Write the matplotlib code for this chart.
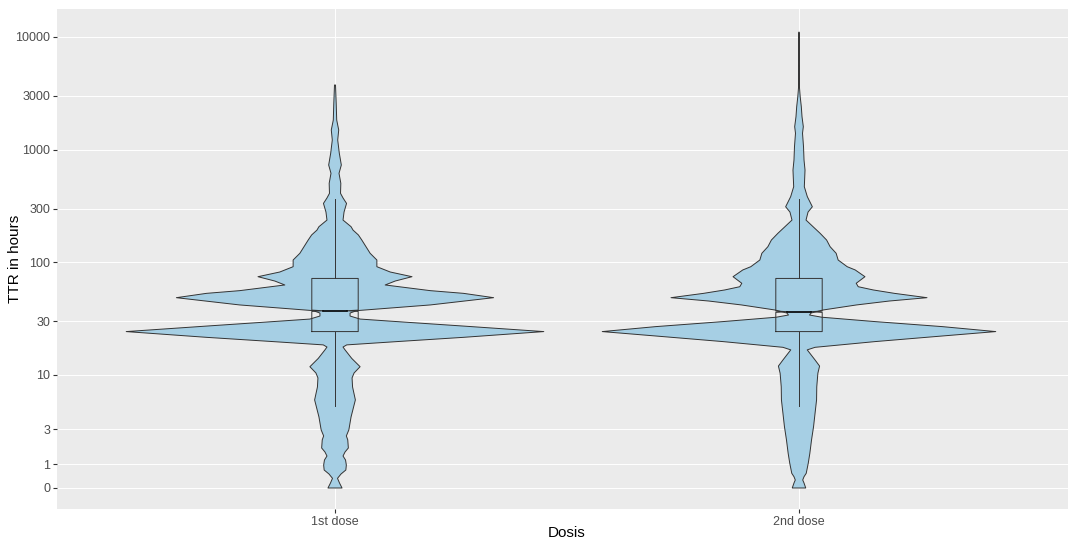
import numpy as np
import matplotlib
matplotlib.use("Agg")
import matplotlib.pyplot as plt

plt.rcParams['font.family'] = ['Liberation Sans', 'DejaVu Sans']

# ---------------- data ----------------
categories = ["1st dose", "2nd dose"]

# violin profile of "1st dose": TTR level (hours) and relative density (half-width)
dose1_levels = [0, 0.204, 0.397, 0.579, 0.751, 0.973, 1.206, 1.40, 1.605, 1.82,
                2.30, 2.547, 2.97, 4.03, 5.87, 7.73, 9.35, 10.36, 11.8, 14.0,
                16.7, 17.7, 18.5, 19.8, 21.6, 24.3, 27.2, 29.8, 31.4, 33.4,
                35.5, 37.3, 41.9, 48.6, 53.1, 56.1, 63.0, 68.3, 74.6, 82.1,
                91.5, 104.9, 120.3, 157.7, 174.8, 193, 207, 237, 279, 333,
                372, 409, 502, 615, 729, 926, 1214, 1490, 1826, 2568, 3730]
dose1_density = [7, 4.5, 2.5, 6, 10.8, 11.3, 10.5, 8, 10, 13.3,
                 12.7, 11.3, 13.8, 16, 20.3, 17.5, 17, 19, 25, 16.7,
                 10, 8, 11.7, 62, 128, 208, 128, 62, 25, 15,
                 15, 21.7, 95, 158, 128, 95, 50, 60, 76.7, 55,
                 41.7, 41.7, 35, 26.7, 23.3, 18, 16, 8, 9, 11.5,
                 8, 5.5, 5.8, 4, 6.3, 4.3, 2.7, 3.7, 1.7, 1.2, 0.5]

# violin profile of "2nd dose"
dose2_levels = [0, 0.204, 0.328, 0.465, 0.609, 1.051, 1.537, 2.30, 3.21, 4.38,
                5.87, 7.77, 10.3, 11.96, 13.56, 16.7, 17.6, 19.8, 22.2, 24.3,
                26.9, 29.8, 32.6, 34.1, 35.5, 37.8, 41.9, 45.4, 48.6, 53.1,
                56.9, 60.8, 65.2, 74.6, 85.6, 91.5, 104.9, 120.3, 137.6, 157.7,
                181, 207, 237, 279, 311, 382, 468, 658, 807, 1059,
                1394, 1593, 1954, 2398, 2940, 3606, 6202, 11000]
dose2_density = [6.7, 5, 3.7, 5, 7.2, 9.2, 10.8, 12.5, 14.5, 16,
                 17.5, 17.7, 18.8, 20.5, 16, 8.2, 16, 76, 142.7, 196,
                 142.7, 76, 22.7, 10.5, 12, 24, 57.3, 90, 127.5, 95,
                 74, 59, 57, 65.7, 56, 48, 39, 37, 31, 27.5,
                 21, 14, 7, 9, 13.3, 8.3, 5.3, 6, 5, 4.5,
                 3.5, 4.3, 3, 2.3, 1.2, 0.4, 0.05, 0.02]

# notched boxplot statistics (hours)
box_q1 = [24.3, 24.3]
box_median = [37.2, 36.5]
box_q3 = [72, 72]
whisker_low = [5.1, 5.1]
whisker_high = [362, 364]
notch_low = [36.7, 36.0]
notch_high = [37.7, 37.0]

y_ticks = [0, 1, 3, 10, 30, 100, 300, 1000, 3000, 10000]
y_tick_labels = ["0", "1", "3", "10", "30", "100", "300", "1000", "3000", "10000"]

# ---------------- styling ----------------
violin_fill = "#a6cfe4"
edge_col = "#333333"
panel_bg = "#EBEBEB"
violin_max_half = 0.45
box_half = 0.05

def fwd(v):
    return np.arcsinh(np.asarray(v, dtype=float) / 2.0)

def inv(t):
    return 2.0 * np.sinh(np.asarray(t, dtype=float))

W, H = 1068, 540
fig = plt.figure(figsize=(W / 100, H / 100), dpi=100)
fig.patch.set_facecolor("white")
left_px, right_px, top_px, bot_px = 56.6, 1077.4, 9, 509
ax = fig.add_axes([left_px / W, 1 - bot_px / H, (right_px - left_px) / W, (bot_px - top_px) / H])
ax.set_facecolor(panel_bg)
ax.set_yscale('function', functions=(fwd, inv))
ax.set_xlim(0.4, 2.6)
ax.set_ylim(float(inv(-0.4286)), float(inv(9.7755)))
for s in ax.spines.values():
    s.set_visible(False)

ax.set_yticks(y_ticks)
ax.set_yticklabels(y_tick_labels)
ax.yaxis.set_minor_locator(matplotlib.ticker.NullLocator())
ax.set_xticks([1, 2])
ax.set_xticklabels(categories)
ax.tick_params(axis='both', length=3.2, width=0.8, color=edge_col,
               labelcolor="#4D4D4D", labelsize=9)
ax.tick_params(axis='y', pad=1.2)
ax.tick_params(axis='x', pad=1.8)
ax.grid(True, color="white", linewidth=0.7)
ax.set_axisbelow(True)

all_max = max(max(dose1_density), max(dose2_density))
profiles = [(dose1_levels, dose1_density), (dose2_levels, dose2_density)]
for i, (lv, dens) in enumerate(profiles):
    xc = i + 1
    lv = np.asarray(lv, dtype=float)
    hw = np.asarray(dens, dtype=float) / all_max * violin_max_half
    xs = np.concatenate([xc + hw, (xc - hw)[::-1]])
    ys = np.concatenate([lv, lv[::-1]])
    ax.fill(xs, ys, facecolor=violin_fill, edgecolor=edge_col, linewidth=0.7,
            joinstyle='round', zorder=3)

for i in range(len(categories)):
    xc = i + 1
    q1, med, q3 = box_q1[i], box_median[i], box_q3[i]
    nl, nh = notch_low[i], notch_high[i]
    bx = [xc - box_half, xc + box_half, xc + box_half, xc + box_half * 0.5, xc + box_half,
          xc + box_half, xc - box_half, xc - box_half, xc - box_half * 0.5, xc - box_half,
          xc - box_half]
    by = [q1, q1, nl, med, nh, q3, q3, nh, med, nl, q1]
    ax.plot(bx, by, color=edge_col, linewidth=0.7, zorder=4)
    ax.plot([xc - box_half * 0.5, xc + box_half * 0.5], [med, med], color="black",
            linewidth=1.2, zorder=5)
    ax.plot([xc, xc], [q3, whisker_high[i]], color=edge_col, linewidth=0.7, zorder=4)
    ax.plot([xc, xc], [q1, whisker_low[i]], color=edge_col, linewidth=0.7, zorder=4)

fig.text(15 / W, 1 - 259 / H, "TTR in hours", rotation=90, ha="center", va="center",
         fontsize=11, color="black")
fig.text(567 / W, 1 - 533 / H, "Dosis", ha="center", va="center", fontsize=11, color="black")

fig.savefig("out.png", dpi=100, facecolor="white")
